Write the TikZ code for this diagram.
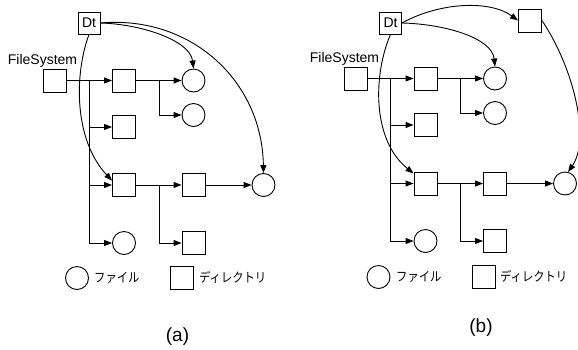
\documentclass[tikz,border=0pt]{standalone}
\usepackage{fontspec}
\setmainfont{Liberation Sans}
\newfontfamily\jafont{Noto Sans CJK JP}
\usetikzlibrary{arrows.meta}
\newcommand{\jatext}[1]{\scalebox{0.87}[1]{#1}}
\begin{document}
\begin{tikzpicture}[x=1pt,y=-1pt,
  dirbox/.style={draw, line width=0.9pt, minimum size=23pt, inner sep=0pt},
  filenode/.style={draw, circle, line width=0.9pt, minimum size=23pt, inner sep=0pt},
  link/.style={line width=0.9pt, -{Triangle[length=8pt,width=6pt]}},
  lbl/.style={font=\fontsize{14}{16}\selectfont, inner sep=0pt},
  jalbl/.style={font=\jafont\fontsize{13}{15}\selectfont, inner sep=0pt, anchor=west},
  caption/.style={font=\fontsize{19}{21}\selectfont, inner sep=0pt},
  ]
\useasboundingbox (0,0) rectangle (578,349);

% ---------------- (a) ----------------
\node[dirbox, minimum size=22pt, lbl] (dtA) at (89,23) {Dt};
\node[lbl, anchor=base] (fslabA) at (42.5,64.5) {FileSystem};
\node[dirbox] (fsA) at (54.5,80.5) {};
\node[dirbox] (a1A) at (124,80.5) {};
\node[filenode] (c1A) at (193.5,80.5) {};
\node[filenode] (c2A) at (193.5,115) {};
\node[dirbox] (a2A) at (124,127) {};
\node[dirbox] (b1A) at (124,185) {};
\node[dirbox] (b2A) at (193.5,185) {};
\node[filenode] (c3A) at (263.5,185) {};
\node[filenode] (d1A) at (124,243) {};
\node[dirbox] (b3A) at (193.5,243) {};

\coordinate (tA) at (89.3,80.5);
\coordinate (sA) at (159,80.5);
\coordinate (uA) at (159,185);
\draw[link] (fsA) -- (a1A);
\draw[link] (tA) |- (d1A);
\draw[link] (tA |- a2A) -- (a2A);
\draw[link] (tA |- b1A) -- (b1A);
\draw[link] (a1A) -- (c1A);
\draw[link] (sA) |- (c2A);
\draw[link] (b1A) -- (b2A);
\draw[link] (b2A) -- (c3A);
\draw[link] (uA) |- (b3A);

\draw[link] (dtA.east) .. controls (140,24) and (190,40) .. (c1A.north);
\draw[link] (dtA.east) .. controls (190,15) and (262,80) .. (c3A.north);
\draw[link] (dtA.south) .. controls (74,75) and (74,140) .. (b1A.160);

\node[filenode] (legfA) at (77,278) {};
\node[jalbl] (legftA) at (94,278) {\jatext{ファイル}};
\node[dirbox] (legdA) at (181.5,277.5) {};
\node[jalbl] (legdtA) at (199,277.5) {\jatext{ディレクトリ}};
\node[caption] (capA) at (177.5,337) {(a)};

% ---------------- (b) ----------------
\node[dirbox, minimum size=22pt, lbl] (dtB) at (390.5,23) {Dt};
\node[dirbox] (eB) at (530,20.5) {};
\node[lbl, anchor=base] (fslabB) at (344.5,62.5) {FileSystem};
\node[dirbox] (fsB) at (355.5,78.5) {};
\node[dirbox] (a1B) at (425.5,78.5) {};
\node[filenode] (c1B) at (495,78.5) {};
\node[filenode] (c2B) at (495,113) {};
\node[dirbox] (a2B) at (425.5,125) {};
\node[dirbox] (b1B) at (425.5,183.5) {};
\node[dirbox] (b2B) at (495,183.5) {};
\node[filenode] (c3B) at (565,183.5) {};
\node[filenode] (d1B) at (425.5,241) {};
\node[dirbox] (b3B) at (495,241) {};

\coordinate (tB) at (390.7,78.5);
\coordinate (sB) at (460.7,78.5);
\coordinate (uB) at (460.7,183.5);
\draw[link] (fsB) -- (a1B);
\draw[link] (tB) |- (d1B);
\draw[link] (tB |- a2B) -- (a2B);
\draw[link] (tB |- b1B) -- (b1B);
\draw[link] (a1B) -- (c1B);
\draw[link] (sB) |- (c2B);
\draw[link] (b1B) -- (b2B);
\draw[link] (b2B) -- (c3B);
\draw[link] (uB) |- (b3B);

\draw[link] (dtB.east) .. controls (440,2) and (490,0) .. (eB.west);
\draw[link] (dtB.east) .. controls (445,24) and (492,38) .. (c1B.north);
\draw[link] (eB.east) .. controls (575,70) and (590,140) .. (c3B.75);
\draw[link] (dtB.south) .. controls (373,75) and (372,140) .. (b1B.140);

\node[filenode] (legfB) at (378.5,277) {};
\node[jalbl] (legftB) at (396,277) {\jatext{ファイル}};
\node[dirbox] (legdB) at (483.5,276.5) {};
\node[jalbl] (legdtB) at (500,276.5) {\jatext{ディレクトリ}};
\node[caption] (capB) at (481,327.5) {(b)};
\end{tikzpicture}
\end{document}
